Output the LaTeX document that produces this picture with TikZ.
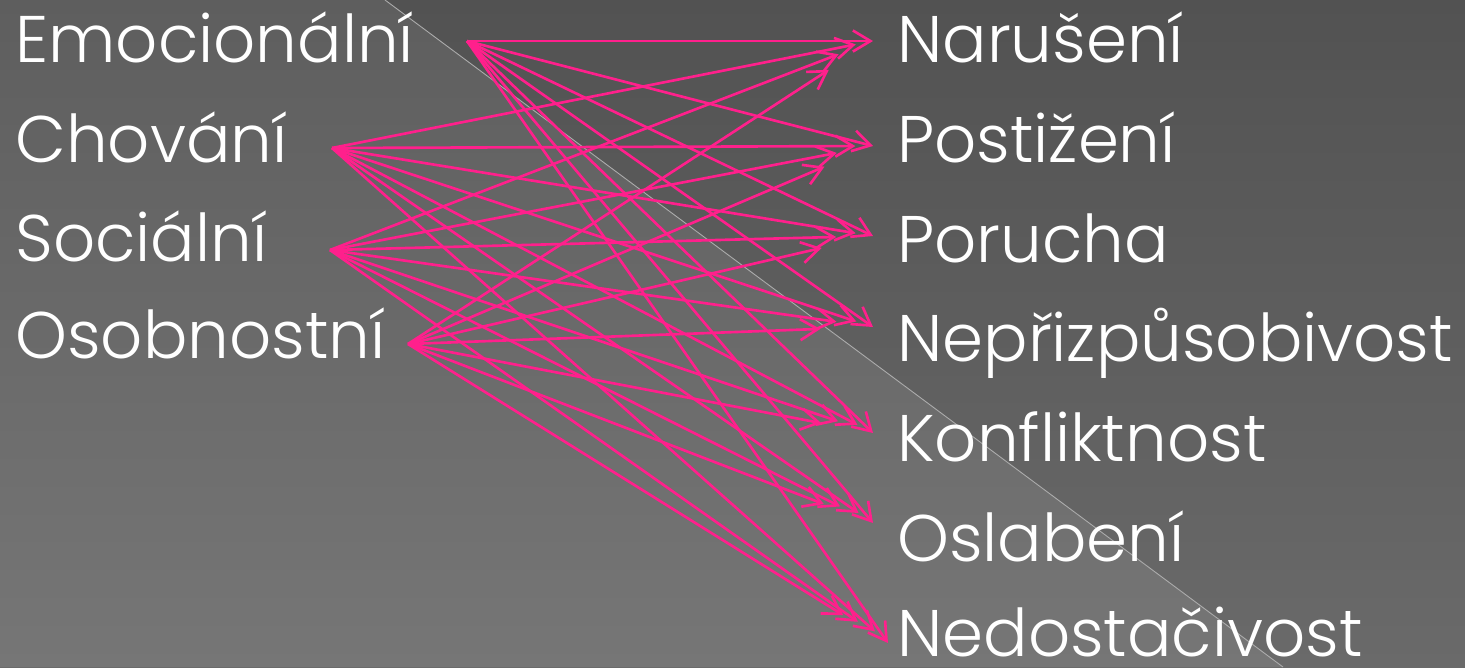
\documentclass[tikz,border=0pt]{standalone}
\usepackage{fontspec}
\setmainfont{Poppins}[UprightFont=* Light]
\usepackage{tikz}
\usetikzlibrary{arrows.meta}
\definecolor{pink}{RGB}{255, 32, 140}
\definecolor{bgtop}{RGB}{82, 82, 82}
\definecolor{bgbot}{RGB}{106, 106, 106}
\definecolor{lftop}{RGB}{94, 94, 94}
\definecolor{lfbot}{RGB}{118, 118, 118}

\begin{document}
\begin{tikzpicture}[
   x=0.02cm, y=-0.02cm,
   lbl/.style={anchor=base west, inner sep=0, text=white,
               font=\fontsize{37.5}{45}\selectfont}
  ]

  % Background
  \useasboundingbox (0, 0) rectangle (1465, 667);
  \shade[top color=bgtop, bottom color=bgbot] (0, 0) rectangle (1465, 667);
  \shade[top color=lftop, bottom color=lfbot] (0, 0) -- (385, 0) -- (1283, 667) -- (0, 667) -- cycle;
  \draw[color=white!35!gray, line width=0.5] (385, 0) -- (1283, 667);

  % Left column
  \node (L1) at (15, 62) [lbl] {Emocionální};
  \node (L2) at (15, 162) [lbl] {Chování};
  \node (L3) at (15, 261) [lbl] {Sociální};
  \node (L4) at (15, 358) [lbl] {Osobnostní};

  % Right column
  \node (R1) at (897, 62) [lbl] {Narušení};
  \node (R2) at (897, 162) [lbl] {Postižení};
  \node (R3) at (897, 262) [lbl] {Porucha};
  \node (R4) at (897, 361) [lbl] {Nepřizpůsobivost};
  \node (R5) at (897, 461) [lbl] {Konfliktnost};
  \node (R6) at (897, 561) [lbl] {Oslabení};
  \node (R7) at (897, 656) [lbl] {Nedostačivost};

  % Arrow ends
  \coordinate (A1) at (467, 41);
  \coordinate (A2) at (332, 148);
  \coordinate (A3) at (330, 250);
  \coordinate (A4) at (408, 344);

  \coordinate (B1) at (873, 41);
  \coordinate (B2) at (873, 146);
  \coordinate (B3) at (873, 236);
  \coordinate (B4) at (873, 327);
  \coordinate (B5) at (873, 433);
  \coordinate (B6) at (873, 523);
  \coordinate (B7) at (888, 643);

  \foreach \B/\s in {A1/0, A2/10, A3/21, A4/30} {
    \foreach \E in {B1, B2, B3, B4, B5, B6, B7} {
      \draw[->, >={Straight Barb[length=10pt, width=12pt]}, color=pink,
            line width=1.5, shorten >=\s pt] (\B) -- (\E);
    }
  }

\end{tikzpicture}
\end{document}
